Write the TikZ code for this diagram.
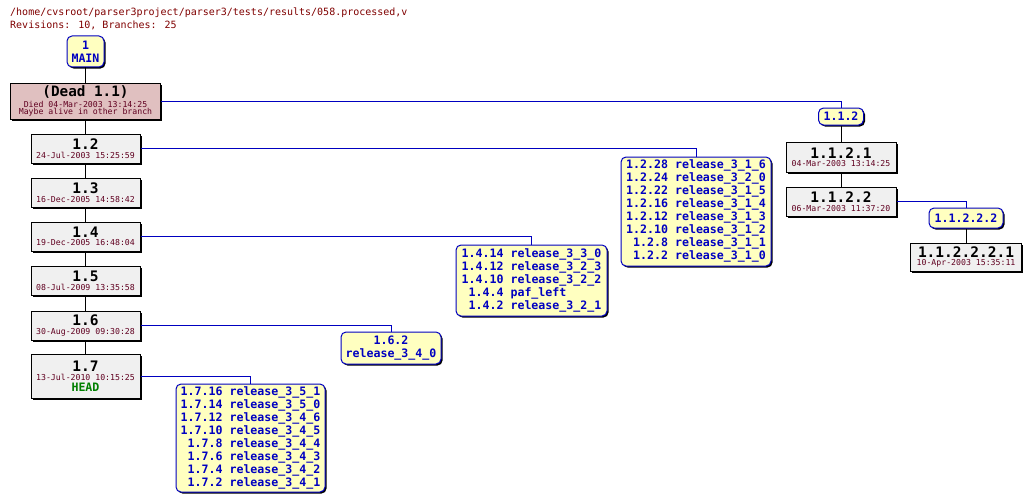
\documentclass[tikz,border=0pt]{standalone}
\usepackage{fontspec}
\newfontfamily\mono{DejaVu Sans Mono}
\usetikzlibrary{shadows}
\definecolor{hdr}{RGB}{128,0,0}
\definecolor{datec}{RGB}{96,0,32}
\definecolor{tagblue}{RGB}{0,0,192}
\definecolor{tagfill}{RGB}{255,255,192}
\definecolor{revfill}{RGB}{240,240,240}
\definecolor{deadfill}{RGB}{224,192,192}
\definecolor{headgreen}{RGB}{0,128,0}
\newcommand\dt[1]{{\mdseries\fontsize{8.2}{8.5}\selectfont\color{datec}#1}}
\begin{document}
\begin{tikzpicture}[x=1pt,y=-1pt,
  shadowed/.style={drop shadow={shadow xshift=1.5pt,shadow yshift=-1.5pt,fill=black,opacity=1}},
  revbox/.style={draw=black,line width=1pt,fill=revfill,shadowed,inner sep=0pt,align=center,
    minimum width=109pt,minimum height=29pt,font=\mono\bfseries\fontsize{14.5}{8.5}\selectfont},
  tagbox/.style={draw=tagblue,line width=1pt,fill=tagfill,rounded corners=5pt,shadowed,inner sep=0pt,
    align=center,text=tagblue,font=\mono\bfseries\fontsize{11.6}{13}\selectfont},
  hdrtext/.style={anchor=base west,inner sep=0pt,text=hdr,font=\mono\fontsize{10}{12}\selectfont},
  trunk/.style={draw=black,line width=1pt},
  branch/.style={draw=tagblue,line width=1pt}]
\useasboundingbox (0,0) rectangle (1030,503);
\fill[white] (0,0) rectangle (1030,503);
% header
\node[hdrtext] (path) at (10,16) {/home/cvsroot/parser3project/parser3/tests/results/058.processed,v};
\node[hdrtext] (stats) at (10,29) {Revisions: 10, Branches: 25};
% trunk
\node[tagbox,minimum width=37pt,minimum height=31pt] (main) at (85.5,51.5) {1\\MAIN};
\node[revbox,fill=deadfill,minimum width=150pt,minimum height=36pt,font=\mono\bfseries\fontsize{14.3}{7.5}\selectfont] (dead) at (85.5,101)
  {(Dead 1.1)\\[1.5pt]\dt{Died 04-Mar-2003 13:14:25}\\\dt{Maybe alive in other branch}};
\node[revbox] (r12) at (85.5,148.5) {1.2\\\dt{24-Jul-2003 15:25:59}};
\node[revbox] (r13) at (85.5,192.5) {1.3\\\dt{16-Dec-2005 14:58:42}};
\node[revbox] (r14) at (85.5,236.5) {1.4\\\dt{19-Dec-2005 16:48:04}};
\node[revbox] (r15) at (85.5,281) {1.5\\\dt{08-Jul-2009 13:35:58}};
\node[revbox] (r16) at (85.5,325.5) {1.6\\\dt{30-Aug-2009 09:30:28}};
\node[revbox,minimum height=44pt,font=\mono\bfseries\fontsize{14.5}{9}\selectfont] (r17) at (85.5,376)
  {1.7\\\dt{13-Jul-2010 10:15:25}\\[2pt]{\bfseries\fontsize{11.6}{13}\selectfont\color{headgreen}HEAD}};
% branch 1.1.2
\node[tagbox,minimum width=45pt,minimum height=17pt] (b112) at (841,116.5) {1.1.2};
\node[revbox,minimum width=110pt,minimum height=30pt] (r1121) at (841,157) {1.1.2.1\\\dt{04-Mar-2003 13:14:25}};
\node[revbox,minimum width=110pt,minimum height=29pt] (r1122) at (841,201.5) {1.1.2.2\\\dt{06-Mar-2003 11:37:20}};
\node[tagbox,minimum width=74pt,minimum height=20pt] (b11222) at (966,218) {1.1.2.2.2};
\node[revbox,minimum width=111pt,minimum height=28pt] (r112221) at (966,257) {1.1.2.2.2.1\\\dt{10-Apr-2003 15:35:11}};
% tag boxes
\node[tagbox,minimum width=150pt,minimum height=109pt] (b12) at (696,211.5) {\begin{tabular}{@{}r@{\hspace{0.602em}}l@{}}
1.2.28 & release\_3\_1\_6\\
1.2.24 & release\_3\_2\_0\\
1.2.22 & release\_3\_1\_5\\
1.2.16 & release\_3\_1\_4\\
1.2.12 & release\_3\_1\_3\\
1.2.10 & release\_3\_1\_2\\
1.2.8 & release\_3\_1\_1\\
1.2.2 & release\_3\_1\_0
\end{tabular}};
\node[tagbox,minimum width=151pt,minimum height=71pt] (b14) at (531.5,280.5) {\begin{tabular}{@{}r@{\hspace{0.602em}}l@{}}
1.4.14 & release\_3\_3\_0\\
1.4.12 & release\_3\_2\_3\\
1.4.10 & release\_3\_2\_2\\
1.4.4 & paf\_left\\
1.4.2 & release\_3\_2\_1
\end{tabular}};
\node[tagbox,minimum width=100pt,minimum height=32pt] (b16) at (391,348) {1.6.2\\release\_3\_4\_0};
\node[tagbox,minimum width=149pt,minimum height=108pt] (b17) at (250.5,438) {\begin{tabular}{@{}r@{\hspace{0.602em}}l@{}}
1.7.16 & release\_3\_5\_1\\
1.7.14 & release\_3\_5\_0\\
1.7.12 & release\_3\_4\_6\\
1.7.10 & release\_3\_4\_5\\
1.7.8 & release\_3\_4\_4\\
1.7.6 & release\_3\_4\_3\\
1.7.4 & release\_3\_4\_2\\
1.7.2 & release\_3\_4\_1
\end{tabular}};
% connectors
\draw[trunk] (main) -- (dead);
\draw[trunk] (dead) -- (r12);
\draw[trunk] (r12) -- (r13);
\draw[trunk] (r13) -- (r14);
\draw[trunk] (r14) -- (r15);
\draw[trunk] (r15) -- (r16);
\draw[trunk] (r16) -- (r17);
\draw[trunk] (b112) -- (r1121);
\draw[trunk] (r1121) -- (r1122);
\draw[trunk] (b11222) -- (r112221);
\draw[branch] (dead) -| (b112);
\draw[branch] (r12) -| (b12);
\draw[branch] (r14) -| (b14);
\draw[branch] (r16) -| (b16);
\draw[branch] (r17) -| (b17);
\draw[branch] (r1122) -| (b11222);
\end{tikzpicture}
\end{document}
